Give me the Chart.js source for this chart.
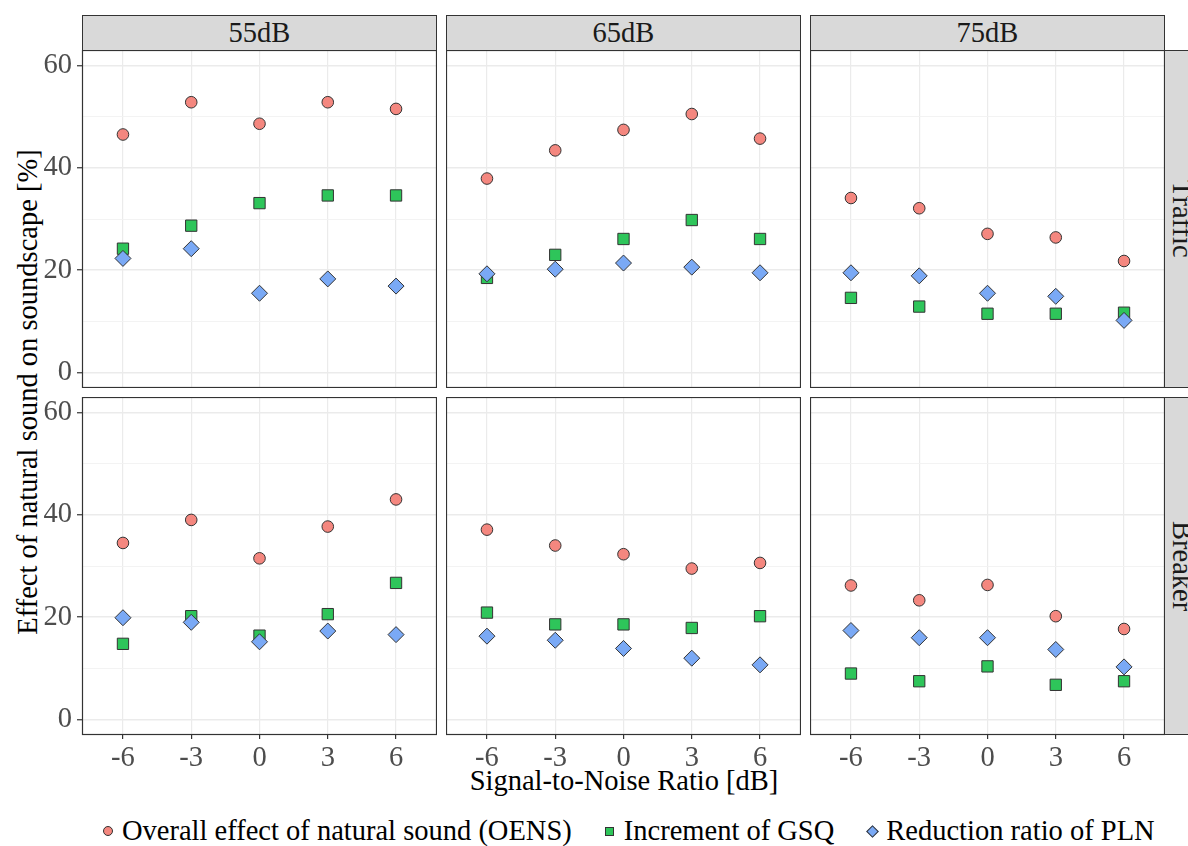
<!DOCTYPE html>
<html>
<head>
<meta charset="utf-8">
<script src="https://cdn.jsdelivr.net/npm/chart.js@4.4.0/dist/chart.umd.min.js"></script>
<style>
body{margin:0;width:1188px;height:846px;overflow:hidden;background:#fff;position:relative;font-family:'Liberation Serif','Times New Roman',serif;}
canvas{position:absolute;}
.strip{position:absolute;background:#d9d9d9;border:1px solid #333;box-sizing:border-box;color:#1a1a1a;font-size:28.5px;display:flex;align-items:center;justify-content:center;line-height:1;}
.strip.side{writing-mode:vertical-rl;}
.title{position:absolute;font-size:28.5px;color:#000;text-align:center;white-space:nowrap;line-height:34px;}
#legend{position:absolute;left:101px;top:813px;height:36px;display:flex;align-items:center;font-size:28.5px;white-space:nowrap;}
.key{width:14px;height:14px;display:flex;align-items:center;justify-content:center;margin-right:7px;}
.key div{border:1px solid #333;box-sizing:border-box;}
.item{display:flex;align-items:center;margin-right:31px;}
</style>
</head>
<body>
<div class="title" style="left:324px;top:764px;width:600px;">Signal-to-Noise Ratio [dB]</div>
<div class="title" style="left:-272px;top:375px;width:600px;transform:rotate(-90deg);">Effect of natural sound on soundscape [%]</div>
<div id="legend">
  <div class="item"><div class="key"><div style="width:10px;height:10px;border-radius:50%;background:#f4877f"></div></div>Overall effect of natural sound (OENS)</div>
  <div class="item"><div class="key"><div style="width:9px;height:9px;background:#2ec55a"></div></div>Increment of GSQ</div>
  <div class="item"><div class="key"><div style="width:9px;height:9px;background:#7aa9f5;transform:rotate(45deg)"></div></div>Reduction ratio of PLN</div>
</div>
<script>
const snr = [-6, -3, 0, 3, 6];
const levels = ['55dB', '65dB', '75dB'];
const sources = ['Traffic', 'Breaker'];
const yTicks = [0, 10, 20, 30, 40, 50, 60];

// one row per level: 55dB, 65dB, 75dB
const oensTraffic = [[46.5, 52.8, 48.6, 52.8, 51.5], [37.9, 43.4, 47.4, 50.5, 45.7], [34.1, 32.1, 27.1, 26.4, 21.8]];
const gsqTraffic = [[24.2, 28.7, 33.1, 34.6, 34.6], [18.5, 23.0, 26.1, 29.8, 26.1], [14.6, 12.9, 11.5, 11.5, 11.7]];
const plnTraffic = [[22.3, 24.2, 15.5, 18.3, 16.9], [19.3, 20.2, 21.4, 20.6, 19.5], [19.5, 18.9, 15.5, 14.9, 10.2]];
const oensBreaker = [[34.5, 39.0, 31.5, 37.7, 43.0], [37.1, 34.0, 32.3, 29.5, 30.6], [26.2, 23.3, 26.3, 20.2, 17.7]];
const gsqBreaker = [[14.8, 20.2, 16.4, 20.6, 26.7], [20.9, 18.6, 18.6, 17.9, 20.2], [9.0, 7.5, 10.4, 6.8, 7.5]];
const plnBreaker = [[19.9, 19.0, 15.2, 17.3, 16.6], [16.3, 15.5, 13.9, 12.0, 10.7], [17.4, 16.0, 16.0, 13.7, 10.3]];

const oens = {Traffic: oensTraffic, Breaker: oensBreaker};
const gsq = {Traffic: gsqTraffic, Breaker: gsqBreaker};
const pln = {Traffic: plnTraffic, Breaker: plnBreaker};

Chart.defaults.font.family = "'Liberation Serif', 'Times New Roman', serif";
Chart.defaults.font.size = 28.5;

const colX = [82, 446, 810];
const rowY = [50, 397];
const panelW = 355, panelH = 338;
const yAxisW = 60, xAxisH = 46;

const panelBorder = {
  id: 'panelBorder',
  afterDraw(chart) {
    const {ctx, chartArea: {left, top, width, height}} = chart;
    ctx.save();
    ctx.strokeStyle = '#333';
    ctx.lineWidth = 1.2;
    ctx.strokeRect(left + 0.5, top + 0.5, width - 1, height - 1);
    ctx.restore();
  }
};

function pts(vals) {
  return vals.map((v, i) => ({x: snr[i], y: v}));
}

function noPad(s) {
  s.paddingLeft = 0; s.paddingRight = 0; s.paddingTop = 0; s.paddingBottom = 0;
}

sources.forEach((src, r) => {
  levels.forEach((lev, c) => {
    const leftCol = c === 0, bottomRow = r === 1;

    // strip on top
    if (r === 0) {
      const s = document.createElement('div');
      s.className = 'strip';
      s.style.left = colX[c] + 'px'; s.style.top = '15px';
      s.style.width = panelW + 'px'; s.style.height = '36px';
      s.textContent = lev;
      document.body.appendChild(s);
    }
    if (c === 2) {
      const s = document.createElement('div');
      s.className = 'strip side';
      s.style.left = (colX[c] + panelW - 1) + 'px'; s.style.top = rowY[r] + 'px';
      s.style.width = '36px'; s.style.height = panelH + 'px';
      s.textContent = src;
      document.body.appendChild(s);
    }

    const cv = document.createElement('canvas');
    const w = panelW + (leftCol ? yAxisW : 0);
    const h = panelH + (bottomRow ? xAxisH : 0);
    cv.width = w; cv.height = h;
    cv.style.width = w + 'px'; cv.style.height = h + 'px';
    cv.style.left = (colX[c] - (leftCol ? yAxisW : 0)) + 'px';
    cv.style.top = rowY[r] + 'px';
    document.body.appendChild(cv);

    new Chart(cv, {
      type: 'scatter',
      data: {
        datasets: [{
          label: 'Reduction ratio of PLN',
          data: pts(pln[src][c]),
          pointStyle: 'rectRot', pointRadius: 8,
          backgroundColor: '#7aa9f5', borderColor: '#333', borderWidth: 1,
          order: 0
        }, {
          label: 'Increment of GSQ',
          data: pts(gsq[src][c]),
          pointStyle: 'rect', pointRadius: 8,
          backgroundColor: '#2ec55a', borderColor: '#333', borderWidth: 1,
          order: 1
        }, {
          label: 'Overall effect of natural sound (OENS)',
          data: pts(oens[src][c]),
          pointStyle: 'circle', pointRadius: 5.8,
          backgroundColor: '#f4877f', borderColor: '#333', borderWidth: 1,
          order: 2
        }]
      },
      options: {
        responsive: false,
        devicePixelRatio: 1,
        animation: false,
        layout: {padding: 0, autoPadding: false},
        plugins: {legend: {display: false}, tooltip: {enabled: false}},
        scales: {
          x: {
            type: 'linear', min: -7.8, max: 7.8,
            afterBuildTicks: s => { s.ticks = snr.map(v => ({value: v})); },
            afterFit: s => { s.height = bottomRow ? xAxisH : 0; noPad(s); },
            border: {display: false},
            grid: {color: '#ebebeb', lineWidth: 1.2, drawTicks: bottomRow, tickLength: 4, tickColor: '#333', tickWidth: 1.2},
            ticks: {display: bottomRow, color: '#4d4d4d', padding: 2, maxRotation: 0, autoSkip: false}
          },
          y: {
            type: 'linear', min: -3, max: 63,
            afterBuildTicks: s => { s.ticks = yTicks.map(v => ({value: v})); },
            afterFit: s => { s.width = leftCol ? yAxisW : 0; noPad(s); },
            border: {display: false},
            grid: {
              color: ctx => (ctx.tick && ctx.tick.value % 20 === 0) ? '#ebebeb' : '#f2f2f2',
              lineWidth: ctx => (ctx.tick && ctx.tick.value % 20 === 0) ? 1.5 : 0.9,
              drawTicks: leftCol, tickLength: 5, tickWidth: 1.2,
              tickColor: ctx => (ctx.tick && ctx.tick.value % 20 === 0) ? '#333' : 'rgba(0,0,0,0)'
            },
            ticks: {display: leftCol, color: '#4d4d4d', padding: 5, callback: v => v % 20 === 0 ? v : ''}
          }
        }
      },
      plugins: [panelBorder]
    });
  });
});
</script>
</body>
</html>
